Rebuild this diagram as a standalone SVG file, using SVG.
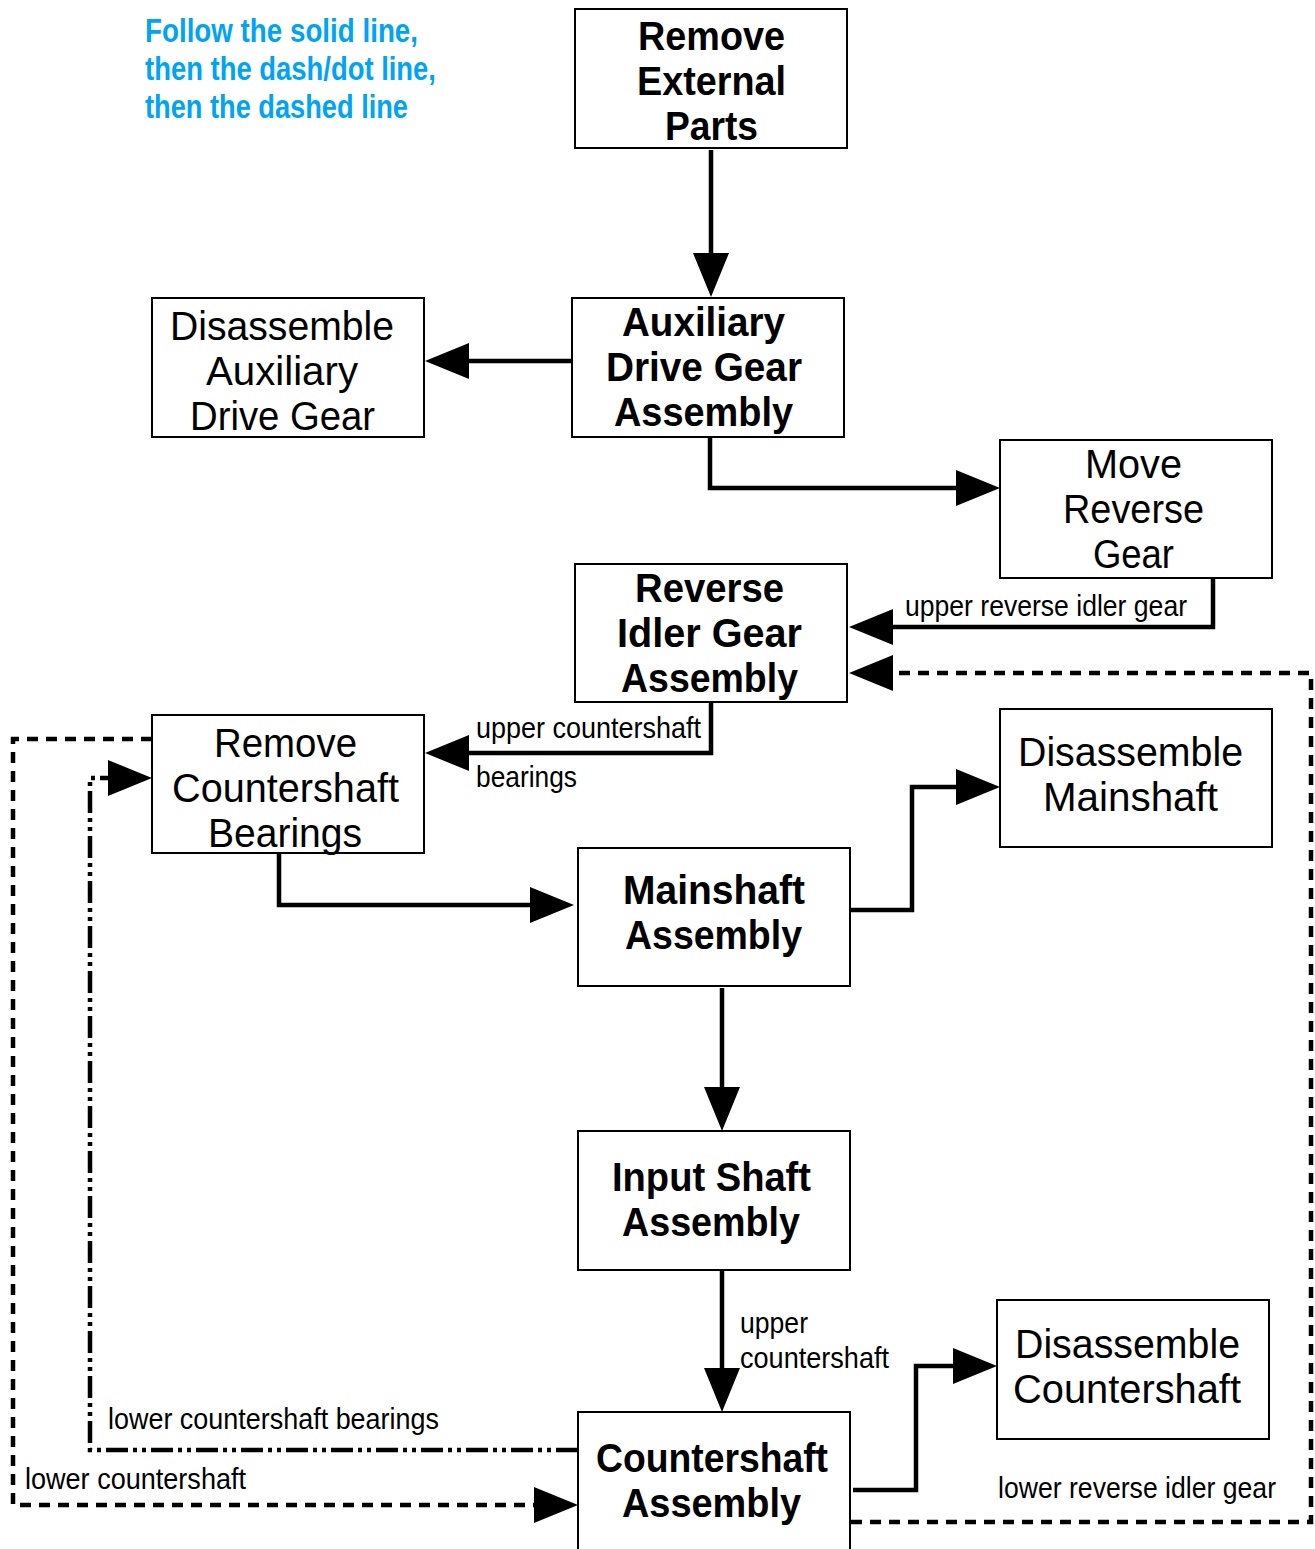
<svg xmlns="http://www.w3.org/2000/svg" width="1315" height="1549" viewBox="0 0 1315 1549">
<style>
  .box { fill: #fff; stroke: #000; stroke-width: 2; }
  .t { font-family: "Liberation Sans Narrow", "Liberation Sans", Arial, sans-serif; font-size: 40px; fill: #000; }
  .b { font-weight: bold; }
  .lbl { font-family: "Liberation Sans Narrow", "Liberation Sans", Arial, sans-serif; font-size: 29px; fill: #000; }
  .note { font-family: "Liberation Sans Narrow", "Liberation Sans", Arial, sans-serif; font-size: 33px; font-weight: bold; fill: #00A3F5; }
  .c { fill: none; stroke: #000; stroke-width: 4.5; stroke-linejoin: miter; }
  .dd { fill: none; stroke: #000; stroke-width: 4.5; stroke-dasharray: 22 5 4 5 4 5; }
  .ds { fill: none; stroke: #000; stroke-width: 4.5; stroke-dasharray: 11 8; }
</style>
<defs>
  <marker id="ah" viewBox="0 0 44 36" refX="34" refY="18" markerWidth="44" markerHeight="36" markerUnits="userSpaceOnUse" orient="auto">
    <path d="M0,0 L44,18 L0,36 z" fill="#000" stroke="none"/>
  </marker>
</defs>

<g id="note">
  <text class="note" x="145" y="42" textLength="273" lengthAdjust="spacingAndGlyphs">Follow the solid line,</text>
  <text class="note" x="145" y="80" textLength="291" lengthAdjust="spacingAndGlyphs">then the dash/dot line,</text>
  <text class="note" x="145" y="118" textLength="263" lengthAdjust="spacingAndGlyphs">then the dashed line</text>
</g>

<g id="connectors">
  <path class="c" d="M711,150 V287" marker-end="url(#ah)"/>
  <path class="c" d="M572,361 H435" marker-end="url(#ah)"/>
  <path class="c" d="M710,438 V488 H990" marker-end="url(#ah)"/>
  <path class="c" d="M1213,579 V627 H859" marker-end="url(#ah)"/>
  <path class="c" d="M711,703 V753 H435" marker-end="url(#ah)"/>
  <path class="c" d="M279,854 V905 H564" marker-end="url(#ah)"/>
  <path class="c" d="M850,910 H912 V787 H990" marker-end="url(#ah)"/>
  <path class="c" d="M722,988 V1121" marker-end="url(#ah)"/>
  <path class="c" d="M722,1271 V1402" marker-end="url(#ah)"/>
  <path class="c" d="M853,1490 H916 V1366 H987" marker-end="url(#ah)"/>
  <path class="dd" d="M578,1450 H90 V778 H142" marker-end="url(#ah)"/>
  <path class="ds" d="M152,739 H13 V1505 H568" marker-end="url(#ah)"/>
  <path class="ds" d="M851,1522 H1311 V673 H859" marker-end="url(#ah)"/>
  <text class="lbl" x="905" y="616" textLength="282" lengthAdjust="spacingAndGlyphs">upper reverse idler gear</text>
  <text class="lbl" x="476" y="738" textLength="225" lengthAdjust="spacingAndGlyphs">upper countershaft</text>
  <text class="lbl" x="476" y="787" textLength="101" lengthAdjust="spacingAndGlyphs">bearings</text>
  <text class="lbl" x="740" y="1333" textLength="68" lengthAdjust="spacingAndGlyphs">upper</text>
  <text class="lbl" x="740" y="1368" textLength="149" lengthAdjust="spacingAndGlyphs">countershaft</text>
  <text class="lbl" x="108" y="1429" textLength="331" lengthAdjust="spacingAndGlyphs">lower countershaft bearings</text>
  <text class="lbl" x="25" y="1489" textLength="221" lengthAdjust="spacingAndGlyphs">lower countershaft</text>
  <text class="lbl" x="998" y="1498" textLength="278" lengthAdjust="spacingAndGlyphs">lower reverse idler gear</text>
</g>

<g id="remove-external-parts">
  <rect class="box" x="575" y="9" width="272" height="139"/>
  <text class="t b" x="638" y="50" textLength="147" lengthAdjust="spacingAndGlyphs">Remove</text>
  <text class="t b" x="637" y="95" textLength="149" lengthAdjust="spacingAndGlyphs">External</text>
  <text class="t b" x="665" y="140" textLength="93" lengthAdjust="spacingAndGlyphs">Parts</text>
</g>

<g id="auxiliary-drive-gear-assembly">
  <rect class="box" x="572" y="298" width="272" height="139"/>
  <text class="t b" x="622" y="336" textLength="163" lengthAdjust="spacingAndGlyphs">Auxiliary</text>
  <text class="t b" x="606" y="381" textLength="196" lengthAdjust="spacingAndGlyphs">Drive Gear</text>
  <text class="t b" x="614" y="426" textLength="179" lengthAdjust="spacingAndGlyphs">Assembly</text>
</g>

<g id="disassemble-auxiliary-drive-gear">
  <rect class="box" x="152" y="298" width="272" height="139"/>
  <text class="t" x="170" y="340" textLength="224" lengthAdjust="spacingAndGlyphs">Disassemble</text>
  <text class="t" x="206" y="385" textLength="152" lengthAdjust="spacingAndGlyphs">Auxiliary</text>
  <text class="t" x="190" y="430" textLength="185" lengthAdjust="spacingAndGlyphs">Drive Gear</text>
</g>

<g id="move-reverse-gear">
  <rect class="box" x="1000" y="440" width="272" height="138"/>
  <text class="t" x="1085" y="478" textLength="97" lengthAdjust="spacingAndGlyphs">Move</text>
  <text class="t" x="1063" y="523" textLength="141" lengthAdjust="spacingAndGlyphs">Reverse</text>
  <text class="t" x="1093" y="568" textLength="81" lengthAdjust="spacingAndGlyphs">Gear</text>
</g>

<g id="reverse-idler-gear-assembly">
  <rect class="box" x="575" y="564" width="272" height="138"/>
  <text class="t b" x="635" y="602" textLength="149" lengthAdjust="spacingAndGlyphs">Reverse</text>
  <text class="t b" x="617" y="647" textLength="185" lengthAdjust="spacingAndGlyphs">Idler Gear</text>
  <text class="t b" x="621" y="692" textLength="177" lengthAdjust="spacingAndGlyphs">Assembly</text>
</g>

<g id="remove-countershaft-bearings">
  <rect class="box" x="152" y="715" width="272" height="138"/>
  <text class="t" x="214" y="757" textLength="143" lengthAdjust="spacingAndGlyphs">Remove</text>
  <text class="t" x="172" y="802" textLength="227" lengthAdjust="spacingAndGlyphs">Countershaft</text>
  <text class="t" x="208" y="847" textLength="154" lengthAdjust="spacingAndGlyphs">Bearings</text>
</g>

<g id="disassemble-mainshaft">
  <rect class="box" x="1000" y="709" width="272" height="138"/>
  <text class="t" x="1018" y="766" textLength="225" lengthAdjust="spacingAndGlyphs">Disassemble</text>
  <text class="t" x="1043" y="811" textLength="175" lengthAdjust="spacingAndGlyphs">Mainshaft</text>
</g>

<g id="mainshaft-assembly">
  <rect class="box" x="578" y="848" width="272" height="138"/>
  <text class="t b" x="623" y="904" textLength="182" lengthAdjust="spacingAndGlyphs">Mainshaft</text>
  <text class="t b" x="625" y="949" textLength="177" lengthAdjust="spacingAndGlyphs">Assembly</text>
</g>

<g id="input-shaft-assembly">
  <rect class="box" x="578" y="1131" width="272" height="139"/>
  <text class="t b" x="612" y="1191" textLength="199" lengthAdjust="spacingAndGlyphs">Input Shaft</text>
  <text class="t b" x="622" y="1236" textLength="178" lengthAdjust="spacingAndGlyphs">Assembly</text>
</g>

<g id="disassemble-countershaft">
  <rect class="box" x="997" y="1300" width="272" height="139"/>
  <text class="t" x="1015" y="1358" textLength="225" lengthAdjust="spacingAndGlyphs">Disassemble</text>
  <text class="t" x="1013" y="1403" textLength="228" lengthAdjust="spacingAndGlyphs">Countershaft</text>
</g>

<g id="countershaft-assembly">
  <rect class="box" x="578" y="1412" width="272" height="160"/>
  <text class="t b" x="596" y="1472" textLength="232" lengthAdjust="spacingAndGlyphs">Countershaft</text>
  <text class="t b" x="622" y="1517" textLength="179" lengthAdjust="spacingAndGlyphs">Assembly</text>
</g>
</svg>
